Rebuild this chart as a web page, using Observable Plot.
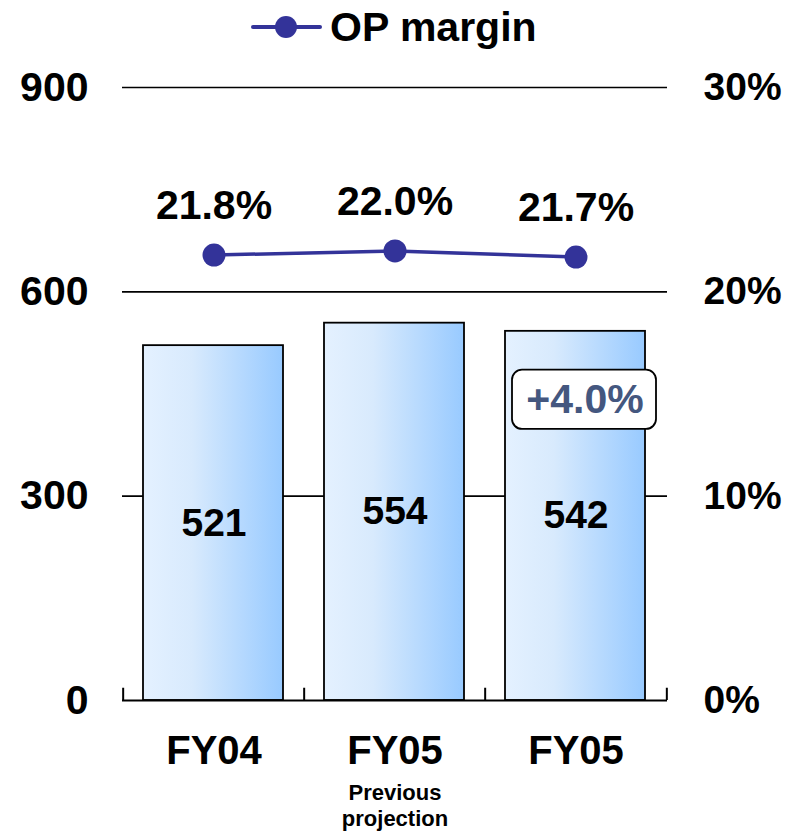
<!DOCTYPE html>
<html><head><meta charset="utf-8">
<script src="https://cdn.jsdelivr.net/npm/d3@7"></script>
<script src="https://cdn.jsdelivr.net/npm/@observablehq/plot@0.6"></script>
<style>
body{margin:0;background:#fff;font-family:"Liberation Sans",Arial,sans-serif;}
#legend{height:56px;width:795px;}
#legend svg{display:block;}
#chart svg{display:block;}
</style></head><body>
<div id="legend"></div>
<div id="chart"></div>
<script>
// ---- data ----
const categories = ["FY04", "FY05 prev", "FY05"];
const tickLabels = ["FY04", "FY05", "FY05"];
const subLabels = ["", "Previous\nprojection", ""];
const opIncome = [521, 554, 542];
const opMargin = [21.8, 22.0, 21.7];
const leftTicks = [0, 300, 600, 900];
const rightTickLabels = ["0%", "10%", "20%", "30%"];
const seriesName = "OP margin";
const changeLabel = "+4.0%";
const changeCategory = "FY05";

// ---- build rows ----
const rows = categories.map((c, i) => ({cat: c, income: opIncome[i], margin: opMargin[i], sub: subLabels[i]}));
const pctToLeft = p => p * 900 / 30; // right axis 0–30% maps onto left 0–900
const lineColor = "#333399";

// ---- legend (HTML, above the chart) ----
const lg = d3.select("#legend").append("svg").attr("width", 795).attr("height", 56);
lg.append("line").attr("x1", 253).attr("x2", 320).attr("y1", 27).attr("y2", 27)
  .attr("stroke", lineColor).attr("stroke-width", 4).attr("stroke-linecap", "round");
lg.append("circle").attr("cx", 286).attr("cy", 27).attr("r", 11).attr("fill", lineColor);
lg.append("text").attr("x", 330).attr("y", 41).text(seriesName)
  .attr("font-family", "'Liberation Sans', Arial, sans-serif").attr("font-weight", "bold")
  .attr("font-size", 41).attr("fill", "#000");

// ---- chart ----
const W = 795, H = 777, mL = 122, mR = 128, mT = 31, mB = 133;
const bw = (W - mL - mR) / categories.length;

const defs = () => {
  const d = d3.create("svg:defs");
  const g = d.append("linearGradient").attr("id", "barGrad").attr("x1", 0).attr("x2", 1).attr("y1", 0).attr("y2", 0);
  g.append("stop").attr("offset", 0).attr("stop-color", "#e4f1ff");
  g.append("stop").attr("offset", 0.35).attr("stop-color", "#d8eafd");
  g.append("stop").attr("offset", 1).attr("stop-color", "#98caff");
  return d.node();
};

const changeIdx = categories.indexOf(changeCategory);

const chart = Plot.plot({
  width: W, height: H,
  marginLeft: mL, marginRight: mR, marginTop: mT, marginBottom: mB,
  style: {fontFamily: "'Liberation Sans', Arial, sans-serif", fontWeight: "bold", fontSize: "39px", color: "#000", background: "#fff"},
  x: {domain: categories, padding: 0, label: null, axis: null},
  y: {domain: [0, 900], label: null, axis: null},
  marks: [
    defs,
    Plot.ruleY([300, 600, 900], {stroke: "#000", strokeWidth: 1.6}),
    Plot.barY(rows, {x: "cat", y: "income", fill: "url(#barGrad)", stroke: "#000", strokeWidth: 1.8, insetLeft: 20, insetRight: 21}),
    Plot.ruleY([0], {stroke: "#000", strokeWidth: 2.2}),
    Plot.ruleX(categories, {x: d => d, y1: 0, y2: 18, dx: -bw / 2, stroke: "#000", strokeWidth: 2}),
    Plot.ruleX([categories[categories.length - 1]], {x: d => d, y1: 0, y2: 18, dx: bw / 2, stroke: "#000", strokeWidth: 2}),
    Plot.axisY({anchor: "left", ticks: leftTicks, tickSize: 0, tickPadding: 34, fontSize: 41}),
    Plot.axisY({anchor: "right", ticks: leftTicks, tickSize: 0, tickPadding: 36, fontSize: 39,
      tickFormat: d => rightTickLabels[leftTicks.indexOf(d)]}),
    Plot.axisX({tickSize: 0, tickPadding: 35, fontSize: 40, tickFormat: d => tickLabels[categories.indexOf(d)]}),
    Plot.text(rows, {x: "cat", y: 0, text: "sub", lineAnchor: "top", dy: 80, fontSize: 22, lineHeight: 1.22}),
    Plot.text(rows, {x: "cat", y: d => d.income / 2, text: d => String(d.income), fontSize: 39, fill: "#000"}),
    Plot.line(rows, {x: "cat", y: d => pctToLeft(d.margin), stroke: lineColor, strokeWidth: 3.5}),
    Plot.dot(rows, {x: "cat", y: d => pctToLeft(d.margin), r: 11.5, fill: lineColor}),
    Plot.text(rows, {x: "cat", y: d => pctToLeft(d.margin), text: d => d.margin.toFixed(1) + "%", dy: -49, fontSize: 41, fill: "#000"}),
    Plot.barY([changeLabel], {x: () => changeCategory, y1: () => opIncome[changeIdx] - 144, y2: () => opIncome[changeIdx] - 57,
      insetLeft: 27, insetRight: 10, fill: "#fff", stroke: "#000", strokeWidth: 1.8, rx: 10}),
    Plot.text([changeLabel], {x: () => changeCategory, y: () => opIncome[changeIdx] - 100.5, text: d => d, dx: 9, fontSize: 41, fill: "#44577f"})
  ]
});
document.getElementById("chart").appendChild(chart);
</script>
</body></html>
